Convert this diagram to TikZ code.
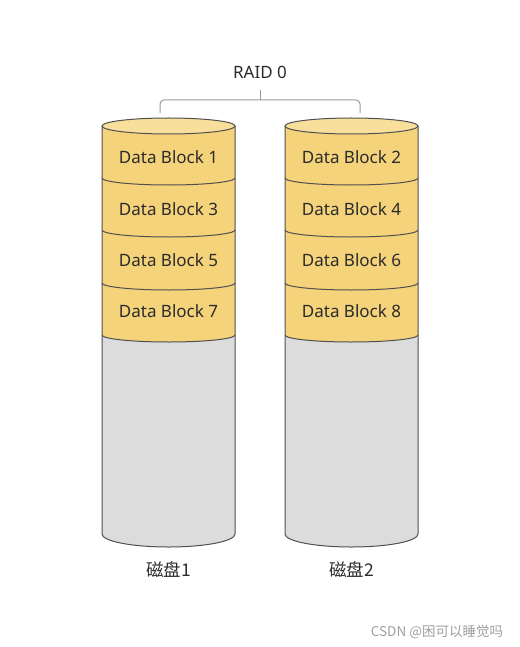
\documentclass[tikz,border=0pt]{standalone}
\usepackage{fontspec}
\setmainfont{Noto Sans}
\newfontfamily\cjk{Noto Sans CJK SC}
\definecolor{blk}{HTML}{F5D37A}
\definecolor{blktop}{HTML}{F8E09C}
\definecolor{disk}{HTML}{DCDCDC}
\definecolor{edge}{HTML}{505050}
\definecolor{txt}{HTML}{2B2B2B}
\newcommand\mycyl[2]{%
 \begin{scope}[shift={(#1,0)}]
  \fill[disk] (0,126) -- (0,534) arc[start angle=180,end angle=0,x radius=66.5,y radius=13] -- (133,126) -- cycle;
  \fill[blk] (0,126) -- (0,335) arc[start angle=180,end angle=0,x radius=66.5,y radius=7] -- (133,126) -- cycle;
  \foreach \yy in {178,230,283,335}{
   \draw[cyledge] (0,\yy) arc[start angle=180,end angle=0,x radius=66.5,y radius=7];
  }
  \draw[cyledge] (0,126) -- (0,534) arc[start angle=180,end angle=0,x radius=66.5,y radius=13] -- (133,126);
  \draw[cyledge,fill=blktop] (66.5,126) ellipse[x radius=66.5,y radius=8];
 \end{scope}}
\begin{document}
\begin{tikzpicture}[x=1pt,y=-1pt,
  cyledge/.style={draw=edge,line width=1pt},
  lbl/.style={text=txt,font=\fontsize{17}{19}\selectfont,inner sep=0pt},
  cjklbl/.style={text=txt,font=\cjk\fontsize{17.5}{19}\selectfont,inner sep=0pt},
  bracket/.style={draw=gray!80,line width=1pt,rounded corners=4pt}]
\useasboundingbox (0,0) rectangle (519,647);
\mycyl{102}{d1}
\mycyl{285}{d2}
\node[lbl] (raid) at (260,72) {RAID 0};
\coordinate (bl) at (160,113);
\coordinate (br) at (360,113);
\coordinate (bm) at (260,90);
\draw[bracket] (bl) -- (160,100) -- (360,100) -- (br);
\draw[bracket] (bm) -- (260,100);
\node[lbl] (b1) at (168.5,157) {Data Block 1};
\node[lbl] (b3) at (168.5,209) {Data Block 3};
\node[lbl] (b5) at (168.5,260) {Data Block 5};
\node[lbl] (b7) at (168.5,311) {Data Block 7};
\node[lbl] (b2) at (351.5,157) {Data Block 2};
\node[lbl] (b4) at (351.5,209) {Data Block 4};
\node[lbl] (b6) at (351.5,260) {Data Block 6};
\node[lbl] (b8) at (351.5,311) {Data Block 8};
\node[cjklbl] (n1) at (168.5,570) {磁盘1};
\node[cjklbl] (n2) at (351.5,570) {磁盘2};
\node[inner sep=0pt,text=gray!75,font=\cjk\fontsize{13.5}{15}\selectfont] (wm) at (437,632) {CSDN @困可以睡觉吗};
\end{tikzpicture}
\end{document}
